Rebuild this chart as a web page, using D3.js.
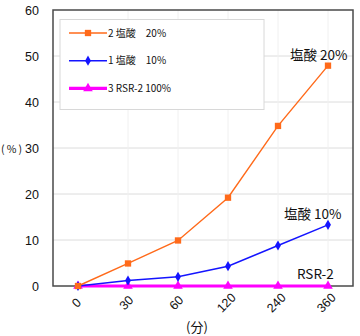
<!DOCTYPE html>
<html>
<head>
<meta charset="utf-8">
<script src="https://cdn.jsdelivr.net/npm/d3@7"></script>
<style>
  body { margin: 0; background: #fff; }
  svg { display: block; font-family: "Liberation Sans", Arial, "Noto Sans CJK JP", sans-serif; }
</style>
</head>
<body>
<div id="chart"></div>
<script>
// Elapsed time categories (minutes)
const categories = ["0", "30", "60", "120", "240", "360"];
// Dissolution (%) for each treatment
const hcl20 = [0, 4.9, 9.9, 19.2, 34.8, 47.9];
const hcl10 = [0, 1.2, 2.0, 4.3, 8.8, 13.3];
const rsr2 = [0, 0, 0, 0, 0, 0];
const yTicks = [0, 10, 20, 30, 40, 50, 60];

const series = [
  { key: "2 塩酸　20%", values: hcl20, color: "#ff6a1a", width: 1.4, symbol: d3.symbolSquare, size: 40, label: "塩酸 20%" },
  { key: "1 塩酸　10%", values: hcl10, color: "#1414ff", width: 1.4, symbol: d3.symbolDiamond, size: 30, label: "塩酸 10%" },
  { key: "3 RSR-2 100%", values: rsr2, color: "#ff00ff", width: 3.2, symbol: d3.symbolTriangle, size: 40, label: "RSR-2" }
];

const W = 360, H = 336;
const m = { left: 53, right: 7, top: 10, bottom: 50 };
const svg = d3.select("#chart").append("svg").attr("width", W).attr("height", H);

const x = d3.scalePoint().domain(categories).range([m.left, W - m.right]).padding(0.5);
const y = d3.scaleLinear().domain([0, 60]).range([H - m.bottom, m.top]);

// horizontal gridlines
svg.append("g").selectAll("line").data(yTicks.filter(t => t > 0 && t < 60)).join("line")
  .attr("x1", m.left).attr("x2", W - m.right)
  .attr("y1", d => y(d)).attr("y2", d => y(d))
  .attr("stroke", "#dcdcdc").attr("stroke-width", 1);

// faint vertical guides at each category
svg.append("g").selectAll("line").data(categories.slice(1)).join("line")
  .attr("x1", d => x(d)).attr("x2", d => x(d))
  .attr("y1", m.top).attr("y2", H - m.bottom)
  .attr("stroke", "#f0f0f0").attr("stroke-width", 1);

// plot frame
svg.append("rect")
  .attr("x", m.left).attr("y", m.top)
  .attr("width", W - m.left - m.right).attr("height", H - m.top - m.bottom)
  .attr("fill", "none").attr("stroke", "#4a4a4a").attr("stroke-width", 1.5);

// y axis tick labels
const yAxis = d3.axisLeft(y).tickValues(yTicks).tickSize(0).tickPadding(14);
const gy = svg.append("g").attr("transform", `translate(${m.left},0)`).call(yAxis);
gy.select(".domain").remove();
gy.selectAll("text").attr("font-size", 12.5).attr("fill", "#111")
  .attr("font-family", "Liberation Sans, Arial, sans-serif");

// x axis tick labels, slanted
const xAxis = d3.axisBottom(x).tickSize(0).tickPadding(0);
const gx = svg.append("g").attr("transform", `translate(0,${H - m.bottom})`).call(xAxis);
gx.select(".domain").remove();
gx.selectAll("text")
  .attr("font-size", 12.5).attr("fill", "#111")
  .attr("font-family", "Liberation Sans, Arial, sans-serif")
  .attr("text-anchor", "middle").attr("dy", null).attr("y", null)
  .attr("dominant-baseline", "central")
  .attr("transform", "translate(-2,17) rotate(-45)");

// axis titles
svg.append("text").attr("x", 1).attr("y", y(30) + 4.5)
  .attr("font-size", 10.5).attr("fill", "#111")
  .attr("font-family", "Noto Sans CJK JP, sans-serif")
  .text("(\u2009%\u2009)");
svg.append("text").attr("x", 197).attr("y", 332).attr("text-anchor", "middle")
  .attr("font-size", 13).attr("fill", "#111")
  .attr("font-family", "Noto Sans CJK JP, sans-serif")
  .text("(分)");

// series lines and markers
const line = d3.line().x((d, i) => x(categories[i])).y(d => y(d));
const g = svg.append("g");
series.slice().reverse().forEach(s => {
  g.append("path").datum(s.values).attr("d", line)
    .attr("fill", "none").attr("stroke", s.color).attr("stroke-width", s.width);
  g.selectAll(null).data(s.values).join("path")
    .attr("transform", (d, i) => `translate(${x(categories[i])},${y(d)})`)
    .attr("d", d3.symbol(s.symbol, s.size))
    .attr("fill", s.color);
});

// end labels
const endLabels = [
  { text: series[0].label, v: hcl20[5], dx: -38, dy: -6 },
  { text: series[1].label, v: hcl10[5], dx: -44, dy: -6 },
  { text: series[2].label, v: rsr2[5], dx: -31, dy: -7 }
];
svg.append("g").selectAll("text").data(endLabels).join("text")
  .attr("x", d => x("360") + d.dx).attr("y", d => y(d.v) + d.dy)
  .attr("font-size", 13.5).attr("fill", "#111")
  .attr("font-family", "Noto Sans CJK JP, sans-serif")
  .text(d => d.text);

// legend
const lg = svg.append("g");
lg.append("rect").attr("x", 60).attr("y", 19.5).attr("width", 204).attr("height", 90)
  .attr("fill", "#fff").attr("stroke", "#d8d8d8").attr("stroke-width", 1);
series.forEach((s, i) => {
  const ly = 33 + i * 27.7;
  lg.append("line").attr("x1", 69).attr("x2", 107).attr("y1", ly).attr("y2", ly)
    .attr("stroke", s.color).attr("stroke-width", s.width);
  lg.append("path").attr("transform", `translate(88,${ly})`)
    .attr("d", d3.symbol(s.symbol, s.size)).attr("fill", s.color);
  lg.append("text").attr("x", 108).attr("y", ly + 3.5)
    .attr("font-size", 10).attr("fill", "#111")
    .attr("font-family", "Noto Sans CJK JP, sans-serif")
    .text(s.key);
});
</script>
</body>
</html>
